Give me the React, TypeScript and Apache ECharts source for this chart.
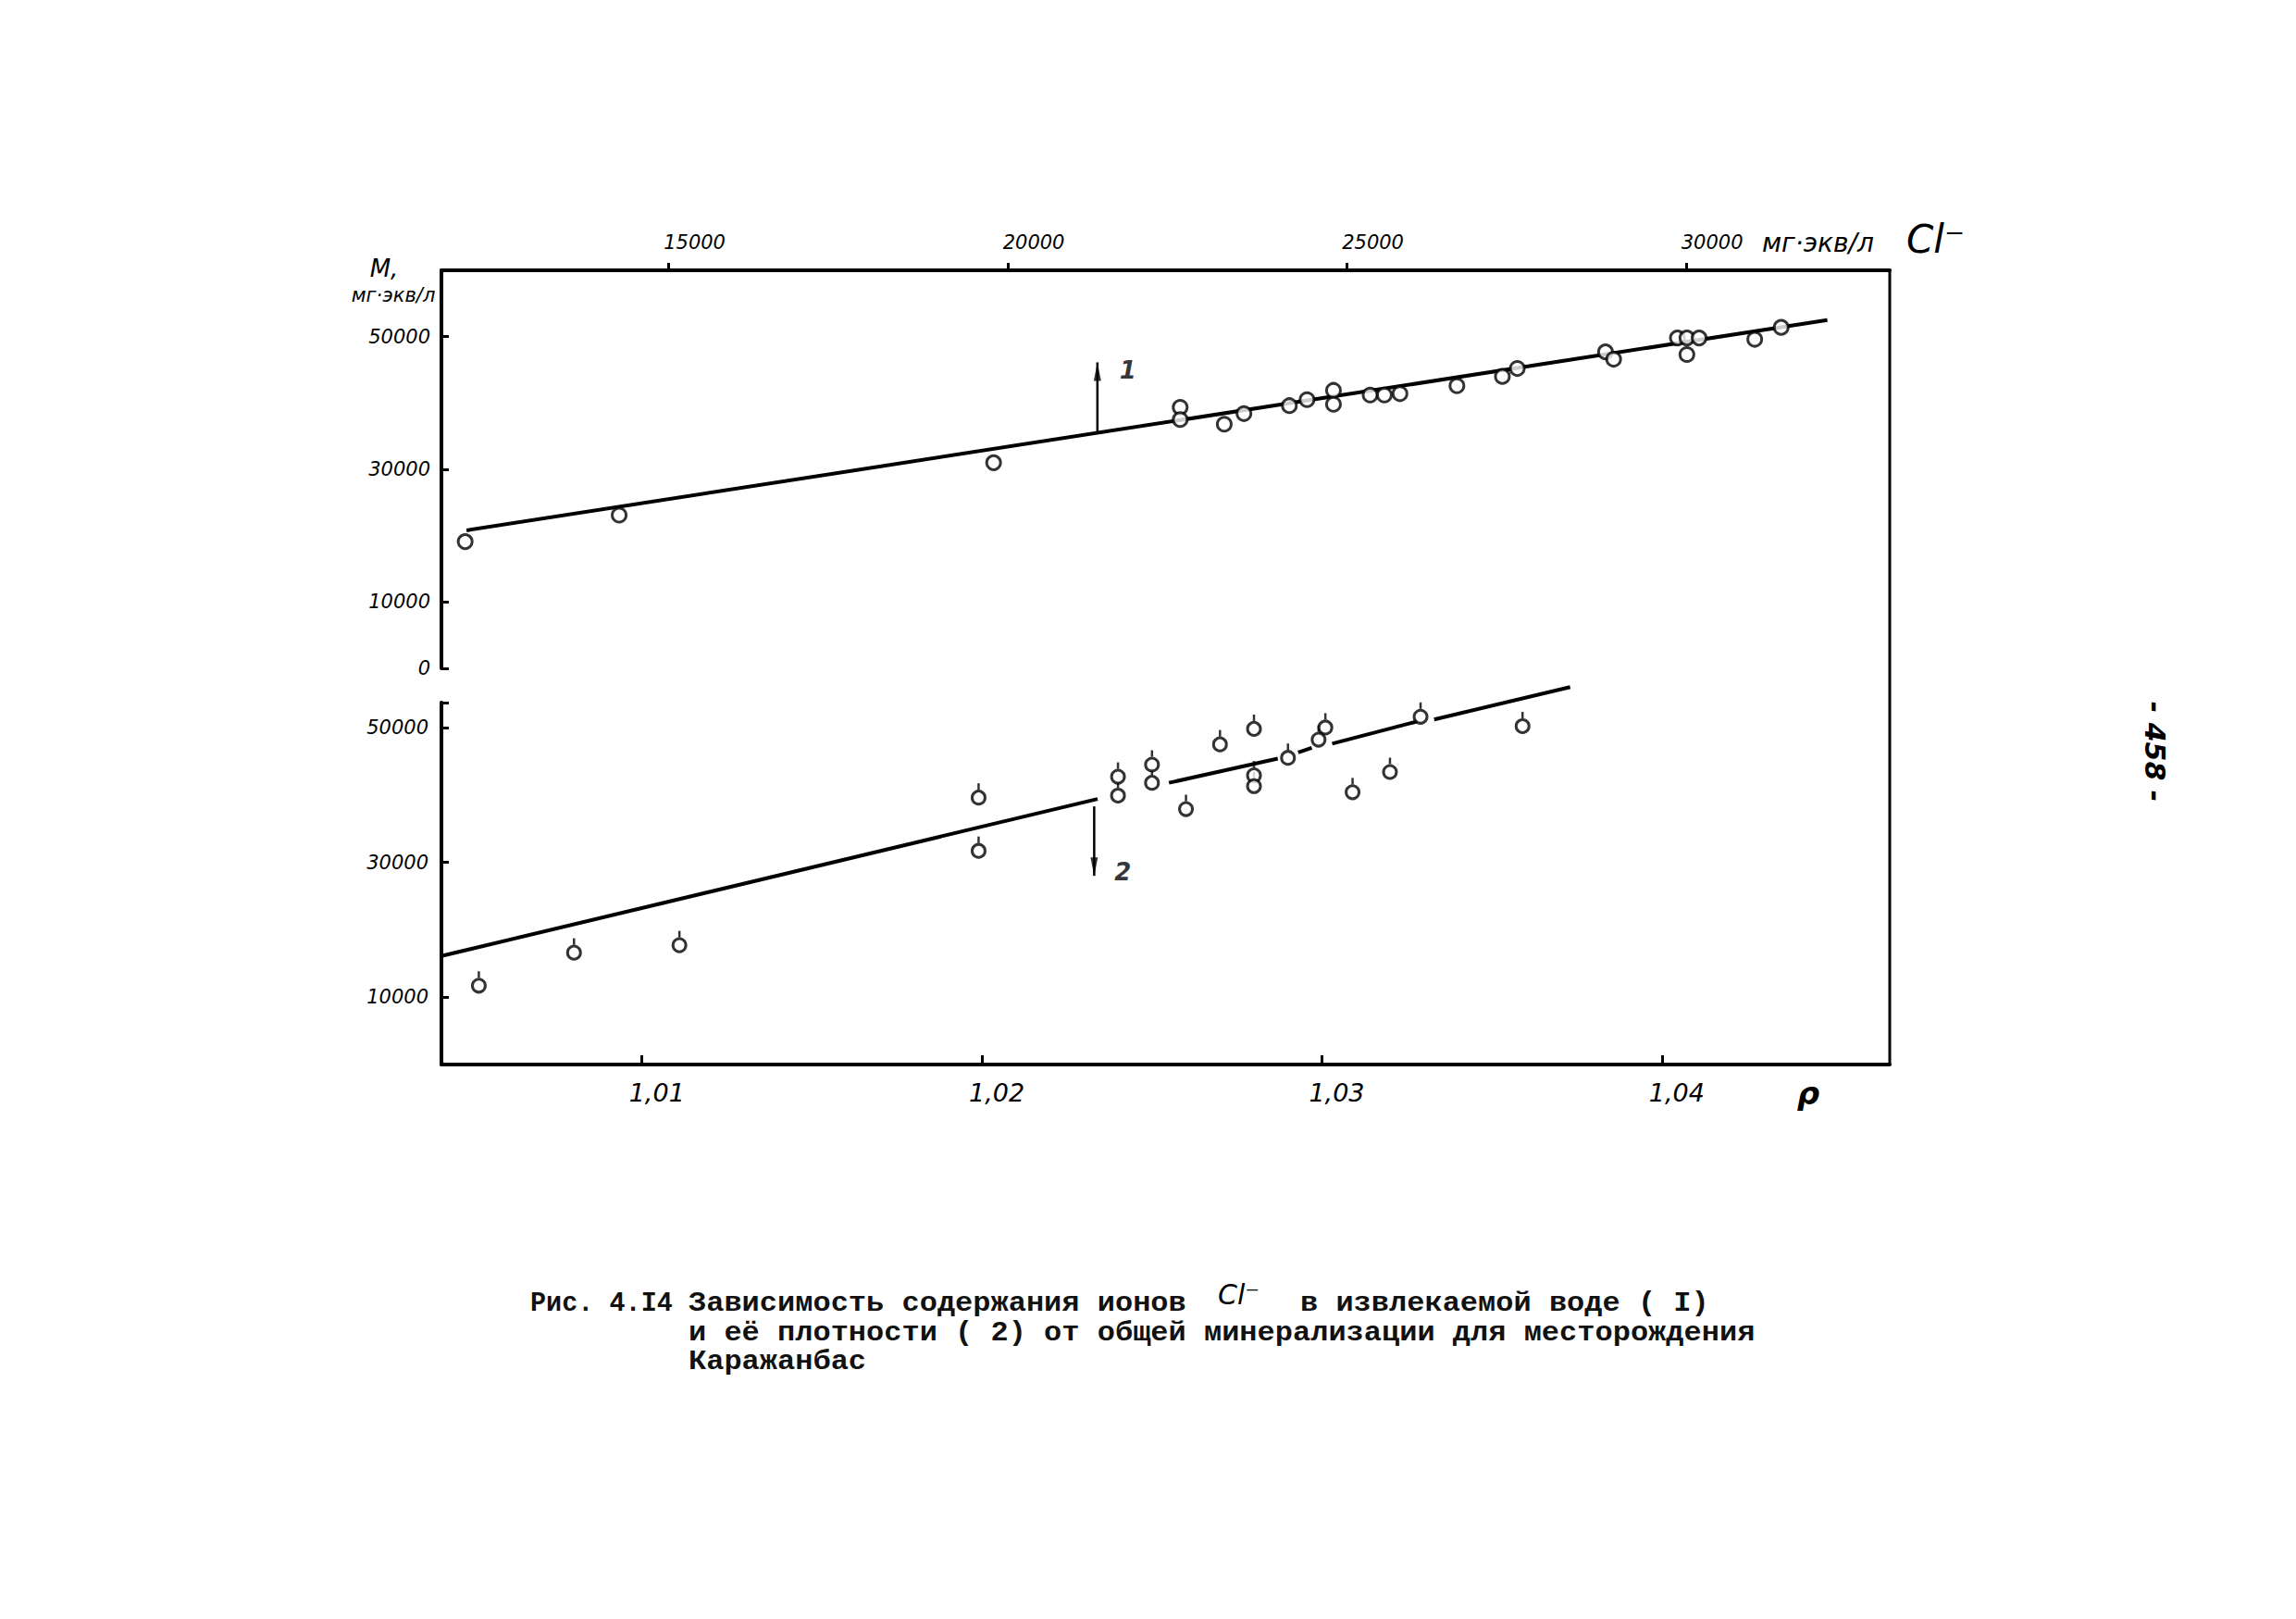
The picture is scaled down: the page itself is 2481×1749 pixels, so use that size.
import React, { useEffect, useRef } from 'react';
import * as echarts from 'echarts';

// ---------- Upper panel: Cl- content (мг·экв/л) vs total mineralization M ----------
const clValues = [12000, 14270, 19790, 22540, 22540, 23190, 23480, 24150, 24410, 24800, 24800, 25340, 25550, 25780, 26620, 27290, 27510, 28810, 28930, 29870, 30010, 30010, 30190, 31010, 31400];
const mUpper = [19100, 23100, 31000, 39350, 37500, 36800, 38400, 39600, 40500, 41900, 39800, 41200, 41200, 41400, 42600, 44000, 45200, 47700, 46600, 49800, 49800, 47300, 49800, 49600, 51400];
const fitLine1Cl = [12020, 32080];
const fitLine1M = [20800, 52500];
const arrow1Cl = 21320;
const arrow1M = [35600, 46100];

// ---------- Lower panel: density ρ vs total mineralization M ----------
const rhoValues = [1.0052, 1.008, 1.0111, 1.0199, 1.0199, 1.024, 1.024, 1.025, 1.025, 1.026, 1.027, 1.028, 1.028, 1.028, 1.029, 1.0301, 1.0299, 1.0309, 1.032, 1.0329, 1.0359];
const mLower = [11700, 16600, 17700, 39600, 31700, 42700, 39900, 44500, 41800, 37900, 47500, 49800, 42900, 41300, 45500, 50000, 48200, 40400, 43400, 51600, 50200];
// hand-drawn fit line, drawn in pieces (broken at the circles)
const fitLine2Rho = [1.0041, 1.0234, 1.0255, 1.0287, 1.0293, 1.0297, 1.0303, 1.0328, 1.0333, 1.0373];
const fitLine2M = [16100, 39400, 41800, 45400, 46300, 47000, 47600, 50900, 51200, 56000];
const arrow2Rho = 1.0233;
const arrow2M = [38300, 28000];

// ---------- Axes ----------
const clMin = 11650;
const clMax = 33000;
const clTicks = [15000, 20000, 25000, 30000];
const rhoMin = 1.0041;
const rhoMax = 1.0467;
const rhoTicks = [1.01, 1.02, 1.03, 1.04];
const mUpperMax = 60000;
const mUpperTicks = [0, 10000, 30000, 50000];
const mLowerMax = 53700;
const mLowerTicks = [10000, 30000, 50000];

// ---------- Texts ----------
const captionPrefix = 'Рис. 4.I4';
const captionLine1a = 'Зависимость содержания ионов';
const captionIon = 'Cl⁻';
const captionLine1b = 'в извлекаемой воде ( I)';
const captionLine2 = 'и её плотности ( 2) от общей минерализации для месторождения';
const captionLine3 = 'Каражанбас';
const pageNumber = '- 458 -';

const hand = { fontFamily: 'DejaVu Sans', fontStyle: 'italic' as const, color: '#000' };
const typewriter = {
  fontFamily: '"Liberation Mono", "DejaVu Sans Mono", monospace',
  fontWeight: 'bold' as const,
  fontSize: 30,
  lineHeight: 30,
  fill: '#111',
  align: 'left' as const,
  verticalAlign: 'middle' as const,
};

function buildOption() {
  const upperPoints = clValues.map((c, i) => [c, mUpper[i]]);
  const lowerPoints = rhoValues.map((r, i) => [r, mLower[i]]);
  const segments: any[] = [];
  for (let i = 0; i + 1 < fitLine2Rho.length; i += 2) {
    segments.push({
      type: 'line',
      xAxisIndex: 1,
      yAxisIndex: 1,
      data: [
        [fitLine2Rho[i], fitLine2M[i]],
        [fitLine2Rho[i + 1], fitLine2M[i + 1]],
      ],
      symbol: 'none',
      clip: false,
      lineStyle: { color: '#000', width: 4 },
      z: 2,
      silent: true,
    });
  }

  return {
    animation: false,
    backgroundColor: '#fff',
    grid: [
      { left: 477, top: 292, width: 1565, height: 430 },
      { left: 477, top: 759, width: 1565, height: 391 },
    ],
    xAxis: [
      {
        type: 'value',
        gridIndex: 0,
        position: 'top',
        min: clMin,
        max: clMax,
        axisLine: { show: true, onZero: false, lineStyle: { color: '#000', width: 4 } },
        axisTick: { show: true, customValues: clTicks, inside: false, length: 8, lineStyle: { color: '#000', width: 3 } },
        axisLabel: {
          show: true,
          customValues: clTicks,
          formatter: (v: number) => String(v),
          fontSize: 21,
          margin: 20,
          padding: [0, 0, 0, 56],
          ...hand,
        },
        splitLine: { show: false },
      },
      {
        type: 'value',
        gridIndex: 1,
        position: 'bottom',
        min: rhoMin,
        max: rhoMax,
        axisLine: { show: true, onZero: false, lineStyle: { color: '#000', width: 4 } },
        axisTick: { show: true, customValues: rhoTicks, inside: true, length: 10, lineStyle: { color: '#000', width: 3 } },
        axisLabel: {
          show: true,
          customValues: rhoTicks,
          formatter: (v: number) => v.toFixed(2).replace('.', ','),
          fontSize: 27,
          margin: 17,
          padding: [0, 0, 0, 32],
          ...hand,
        },
        splitLine: { show: false },
      },
    ],
    yAxis: [
      {
        type: 'value',
        gridIndex: 0,
        min: 0,
        max: mUpperMax,
        axisLine: { show: true, onZero: false, lineStyle: { color: '#000', width: 4 } },
        axisTick: { show: true, customValues: mUpperTicks, inside: true, length: 8, lineStyle: { color: '#000', width: 3 } },
        axisLabel: {
          show: true,
          customValues: mUpperTicks,
          formatter: (v: number) => String(v),
          fontSize: 21,
          margin: 12,
          ...hand,
        },
        splitLine: { show: false },
      },
      {
        type: 'value',
        gridIndex: 1,
        min: 0,
        max: mLowerMax,
        axisLine: { show: true, onZero: false, lineStyle: { color: '#000', width: 4 } },
        axisTick: { show: true, customValues: [...mLowerTicks, mLowerMax], inside: true, length: 8, lineStyle: { color: '#000', width: 3 } },
        axisLabel: {
          show: true,
          customValues: mLowerTicks,
          formatter: (v: number) => String(v),
          fontSize: 21,
          margin: 14,
          ...hand,
        },
        splitLine: { show: false },
      },
    ],
    series: [
      {
        type: 'line',
        xAxisIndex: 0,
        yAxisIndex: 0,
        data: fitLine1Cl.map((c, i) => [c, fitLine1M[i]]),
        symbol: 'none',
        lineStyle: { color: '#000', width: 4 },
        z: 2,
        silent: true,
      },
      {
        type: 'line',
        xAxisIndex: 0,
        yAxisIndex: 0,
        data: arrow1M.map((m) => [arrow1Cl, m]),
        symbol: 'none',
        lineStyle: { color: '#000', width: 2.5 },
        z: 2,
        silent: true,
      },
      {
        type: 'scatter',
        xAxisIndex: 0,
        yAxisIndex: 0,
        data: [[arrow1Cl, arrow1M[1]]],
        symbol: 'triangle',
        symbolSize: [8, 20],
        symbolOffset: [0, 10],
        itemStyle: { color: '#000' },
        label: {
          show: true,
          formatter: '1',
          position: 'right',
          distance: 20,
          offset: [0, -2],
          fontSize: 26,
          fontWeight: 'bold',
          ...hand,
        },
        z: 3,
        silent: true,
      },
      {
        type: 'scatter',
        xAxisIndex: 0,
        yAxisIndex: 0,
        data: upperPoints,
        symbol: 'circle',
        symbolSize: 15,
        itemStyle: { color: '#fff', borderColor: '#000', borderWidth: 3 },
        z: 4,
        silent: true,
      },
      ...segments,
      {
        type: 'line',
        xAxisIndex: 1,
        yAxisIndex: 1,
        data: arrow2M.map((m) => [arrow2Rho, m]),
        symbol: 'none',
        lineStyle: { color: '#000', width: 2.5 },
        z: 2,
        silent: true,
      },
      {
        type: 'scatter',
        xAxisIndex: 1,
        yAxisIndex: 1,
        data: [[arrow2Rho, arrow2M[1]]],
        symbol: 'triangle',
        symbolRotate: 180,
        symbolSize: [8, 20],
        symbolOffset: [0, -10],
        itemStyle: { color: '#000' },
        label: {
          show: true,
          formatter: '2',
          position: 'right',
          distance: 18,
          offset: [0, 6],
          fontSize: 26,
          fontWeight: 'bold',
          ...hand,
        },
        z: 3,
        silent: true,
      },
      {
        type: 'scatter',
        xAxisIndex: 1,
        yAxisIndex: 1,
        data: lowerPoints,
        symbol: 'rect',
        symbolSize: [2.5, 7],
        symbolOffset: [0, -12],
        itemStyle: { color: '#000' },
        z: 3,
        silent: true,
      },
      {
        type: 'scatter',
        xAxisIndex: 1,
        yAxisIndex: 1,
        data: lowerPoints,
        symbol: 'circle',
        symbolSize: 14,
        itemStyle: { color: '#fff', borderColor: '#000', borderWidth: 3 },
        z: 4,
        silent: true,
      },
    ],
    graphic: [
      { type: 'line', shape: { x1: 2042, y1: 292, x2: 2042, y2: 1150 }, style: { stroke: '#000', lineWidth: 3 }, silent: true },
      { type: 'text', x: 415, y: 290, style: { text: 'M,', fontSize: 26, fontFamily: 'DejaVu Sans', fontStyle: 'italic', fill: '#000', align: 'center', verticalAlign: 'middle' } },
      { type: 'text', x: 425, y: 319, style: { text: 'мг·экв/л', fontSize: 21, fontFamily: 'DejaVu Sans', fontStyle: 'italic', fill: '#000', align: 'center', verticalAlign: 'middle' } },
      { type: 'text', x: 1904, y: 262, style: { text: 'мг·экв/л', fontSize: 28, fontFamily: 'DejaVu Sans', fontStyle: 'italic', fill: '#000', align: 'left', verticalAlign: 'middle' } },
      { type: 'text', x: 2060, y: 258, style: { text: 'Cl⁻', fontSize: 42, fontFamily: 'DejaVu Sans', fontStyle: 'italic', fill: '#000', align: 'left', verticalAlign: 'middle' } },
      { type: 'text', x: 1954, y: 1181, style: { text: 'ρ', fontSize: 34, fontFamily: 'DejaVu Sans', fontStyle: 'italic', fontWeight: 'bold', fill: '#000', align: 'center', verticalAlign: 'middle' } },
      { type: 'text', x: 573, y: 1408, scaleX: 0.95, style: { text: captionPrefix, ...typewriter } },
      { type: 'text', x: 744, y: 1408, scaleX: 1.067, style: { text: captionLine1a, ...typewriter } },
      { type: 'text', x: 1316, y: 1398, style: { text: captionIon, fontSize: 30, fontFamily: 'DejaVu Sans', fontStyle: 'italic', fill: '#000', align: 'left', verticalAlign: 'middle' } },
      { type: 'text', x: 1405, y: 1408, scaleX: 1.067, style: { text: captionLine1b, ...typewriter } },
      { type: 'text', x: 744, y: 1440, scaleX: 1.067, style: { text: captionLine2, ...typewriter } },
      { type: 'text', x: 744, y: 1471, scaleX: 1.067, style: { text: captionLine3, ...typewriter } },
      { type: 'text', x: 2328, y: 812, rotation: -Math.PI / 2, style: { text: pageNumber, fontSize: 30, fontFamily: 'DejaVu Sans', fontStyle: 'italic', fontWeight: 'bold', fill: '#000', align: 'center', verticalAlign: 'middle' } },
    ],
  };
}

export default function App() {
  const ref = useRef<HTMLDivElement>(null);
  useEffect(() => {
    if (!ref.current) return;
    const chart = echarts.init(ref.current, null, { renderer: 'svg' });
    chart.setOption(buildOption() as any);
    return () => chart.dispose();
  }, []);
  return (
    <div
      ref={ref}
      style={{ position: 'absolute', left: 0, top: 0, width: 2481, height: 1749, background: '#fff' }}
    />
  );
}
